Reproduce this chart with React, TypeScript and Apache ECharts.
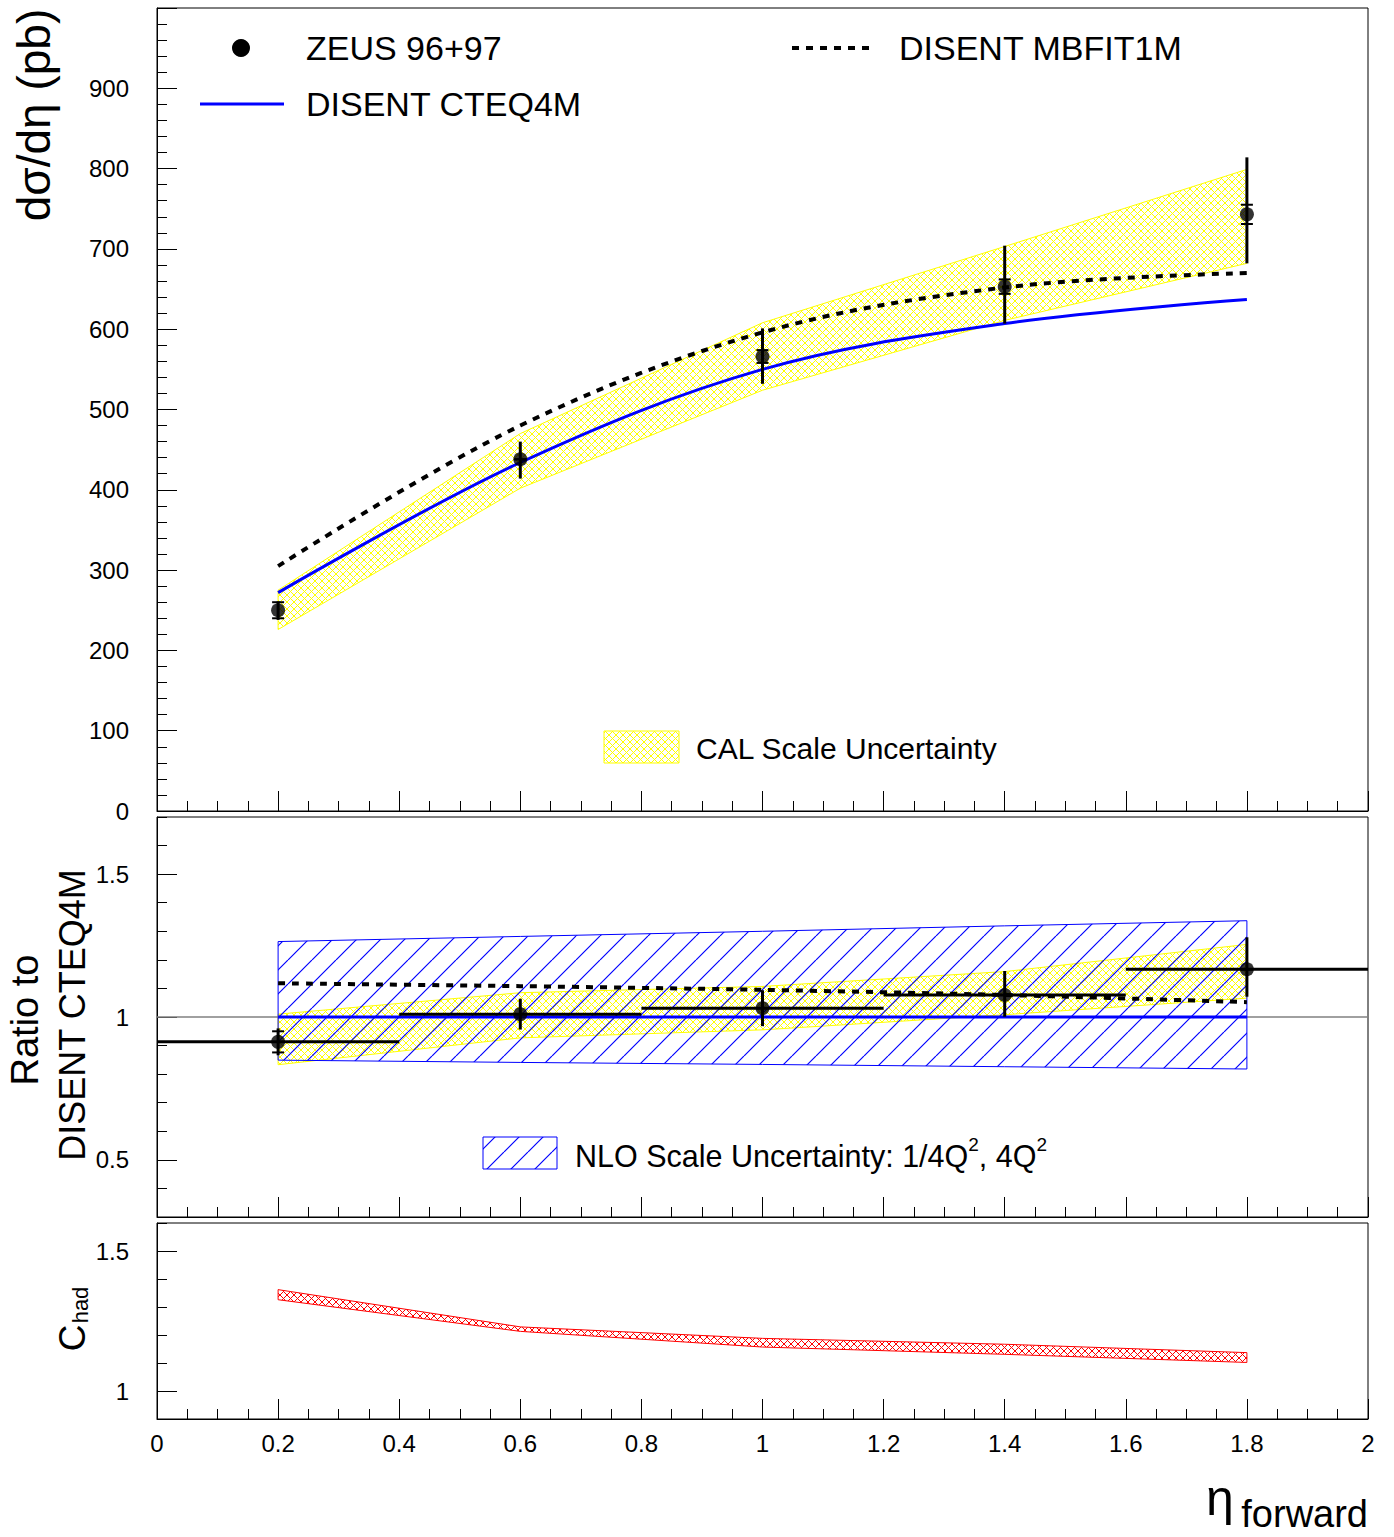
import React, { useEffect, useRef } from "react";
import * as echarts from "echarts";

// ---------- data ----------
const etaBins = [0.2, 0.6, 1.0, 1.4, 1.8];
const etaHalfWidth = [0.2, 0.2, 0.2, 0.2, 0.2];

// top panel: dsigma/deta (pb)
const zeusXsec = [250, 438, 566, 653, 743];
const zeusStat = [10, 0, 8, 9, 12];
const zeusTotUp = [11, 22, 35, 51, 71];
const zeusTotDown = [12, 24, 34, 46, 61];
const cteq4m = [272, 434, 550, 607, 637];
const mbfit1m = [305, 480, 596, 652, 670];
const calBandLo = [226, 402, 524, 611, 682];
const calBandHi = [275, 470, 608, 703, 799];

// middle panel: ratio to DISENT CTEQ4M
const ratioData = [0.913, 1.01, 1.031, 1.077, 1.167];
const ratioStat = [0.037, 0, 0, 0, 0];
const ratioTotUp = [0.047, 0.054, 0.063, 0.084, 0.112];
const ratioTotDown = [0.047, 0.054, 0.063, 0.076, 0.096];
const ratioCteq = [1, 1, 1, 1, 1];
const ratioMbfit = [1.118, 1.108, 1.095, 1.077, 1.052];
const ratioCalLo = [0.833, 0.927, 0.955, 1.008, 1.066];
const ratioCalHi = [1.01, 1.085, 1.107, 1.159, 1.254];
const nloScaleLo = [0.849, 0.841, 0.834, 0.826, 0.818];
const nloScaleHi = [1.264, 1.282, 1.3, 1.319, 1.337];
const ratioReference = 1;

// bottom panel: C_had
const chadLo = [1.326, 1.213, 1.157, 1.131, 1.102];
const chadHi = [1.362, 1.229, 1.188, 1.167, 1.137];

// axes
const xTicks = { min: 0, max: 2, step: 0.2 };
const topY = { min: 0, max: 1000, step: 100 };
const midY = { min: 0.3, max: 1.7, minorStep: 0.1, major: [0.5, 1, 1.5] };
const botY = { min: 0.9, max: 1.6, minorStep: 0.1, major: [1, 1.5] };

const FONT = "'Liberation Sans', Arial, Helvetica, sans-serif";

function hatch(size: number, color: string, lw: number, fwd: boolean, back: boolean) {
  let d = "";
  for (const o of [-size, 0, size]) {
    if (fwd) d += `M${o} ${size}L${o + size} 0`;
    if (back) d += `M${o} 0L${o + size} ${size}`;
  }
  const svg = `<svg xmlns='http://www.w3.org/2000/svg' width='${size}' height='${size}'><path d='${d}' stroke='${color}' stroke-width='${lw}' fill='none'/></svg>`;
  return {
    image: "data:image/svg+xml;charset=utf-8," + encodeURIComponent(svg),
    repeat: "repeat",
    imageWidth: size,
    imageHeight: size,
  } as any;
}

function bandSeries(xi: number, yi: number, lo: number[], hi: number[], fill: any, stroke: string, z: number) {
  const rows = etaBins.map((x, i) => [x, lo[i], hi[i]]);
  return {
    type: "custom",
    xAxisIndex: xi,
    yAxisIndex: yi,
    z,
    silent: true,
    data: rows,
    renderItem: (params: any, api: any) => {
      if (params.dataIndex !== 0) return null;
      const upper = rows.map((r) => api.coord([r[0], r[2]]));
      const lower = rows.map((r) => api.coord([r[0], r[1]])).reverse();
      return {
        type: "polygon",
        shape: { points: [...upper, ...lower] },
        style: { fill, stroke, lineWidth: 1 },
      };
    },
  };
}

function errorSeries(xi: number, yi: number, y: number[], up: number[], down: number[], stat: number[], xerr: number[] | null) {
  const rows = etaBins.map((x, i) => [x, y[i], y[i] - down[i], y[i] + up[i], y[i] - stat[i], y[i] + stat[i], xerr ? xerr[i] : 0]);
  return {
    type: "custom",
    xAxisIndex: xi,
    yAxisIndex: yi,
    z: 8,
    silent: true,
    data: rows,
    renderItem: (params: any, api: any) => {
      const x = api.value(0);
      const yy = api.value(1);
      const pLo = api.coord([x, api.value(2)]);
      const pHi = api.coord([x, api.value(3)]);
      const st = { stroke: "#000", lineWidth: 3 };
      const children: any[] = [
        { type: "line", shape: { x1: pLo[0], y1: pLo[1], x2: pHi[0], y2: pHi[1] }, style: st },
      ];
      for (const s of [api.value(4), api.value(5)]) {
        const p = api.coord([x, s]);
        children.push({ type: "line", shape: { x1: p[0] - 6, y1: p[1], x2: p[0] + 6, y2: p[1] }, style: { stroke: "#000", lineWidth: 2 } });
      }
      const xe = api.value(6);
      if (xe > 0) {
        const a = api.coord([x - xe, yy]);
        const b = api.coord([x + xe, yy]);
        children.push({ type: "line", shape: { x1: a[0], y1: a[1], x2: b[0], y2: b[1] }, style: st });
      }
      return { type: "group", children };
    },
  };
}

export default function App() {
  const ref = useRef<HTMLDivElement>(null);
  useEffect(() => {
    if (!ref.current) return;
    const chart = echarts.init(ref.current, null, { renderer: "svg" });

    const yellow = hatch(7, "#ffff00", 1, true, true);
    const blue = hatch(24, "#0000ff", 1.2, true, false);
    const red = hatch(7, "#ff0000", 1, true, true);

    const grids = [
      { left: 157, top: 8, width: 1211, height: 803 },
      { left: 157, top: 817, width: 1211, height: 400 },
      { left: 157, top: 1223, width: 1211, height: 196 },
    ].map((g) => ({ ...g, show: true, borderColor: "#000", borderWidth: 1, backgroundColor: "#fff", containLabel: false }));

    const xAxis = [0, 1, 2].map((i) => ({
      type: "value",
      gridIndex: i,
      min: xTicks.min,
      max: xTicks.max,
      interval: xTicks.step,
      axisLine: { show: true, onZero: false, lineStyle: { color: "#000", width: 1 } },
      axisTick: { show: true, inside: true, length: 20, lineStyle: { color: "#000", width: 1 } },
      minorTick: { show: true, splitNumber: 4, length: 10, lineStyle: { color: "#000", width: 1 } },
      splitLine: { show: false },
      minorSplitLine: { show: false },
      axisLabel: { show: i === 2, margin: 12, fontSize: 24, color: "#000", fontFamily: FONT },
    }));

    const labelStyle = { fontSize: 24, color: "#000", fontFamily: FONT, margin: 28 };
    const yAxis: any[] = [
      {
        type: "value",
        gridIndex: 0,
        position: "left",
        min: topY.min,
        max: topY.max,
        interval: topY.step,
        axisLine: { show: true, onZero: false, lineStyle: { color: "#000", width: 1 } },
        axisTick: { show: true, inside: true, length: 20, lineStyle: { color: "#000" } },
        minorTick: { show: true, splitNumber: 5, length: 10, lineStyle: { color: "#000" } },
        splitLine: { show: false },
        axisLabel: { ...labelStyle, showMaxLabel: false },
      },
    ];
    for (const [gi, ax] of [[1, midY], [2, botY]] as any) {
      yAxis.push({
        type: "value",
        gridIndex: gi,
        position: "left",
        offset: 0,
        min: ax.min,
        max: ax.max,
        interval: ax.minorStep,
        axisLine: { show: true, onZero: false, lineStyle: { color: "#000", width: 1 } },
        axisTick: { show: true, inside: true, length: 10, lineStyle: { color: "#000" } },
        splitLine: { show: false },
        axisLabel: { show: false },
      });
      yAxis.push({
        type: "value",
        gridIndex: gi,
        position: "left",
        offset: 0,
        min: ax.min,
        max: ax.max,
        axisLine: { show: false, onZero: false },
        axisTick: { show: true, inside: true, length: 20, customValues: ax.major, lineStyle: { color: "#000" } },
        splitLine: { show: false },
        axisLabel: { ...labelStyle, customValues: ax.major },
      });
    }

    const series: any[] = [
      {
        type: "line",
        xAxisIndex: 1,
        yAxisIndex: 1,
        data: [[xTicks.min, ratioReference], [xTicks.max, ratioReference]],
        symbol: "none",
        lineStyle: { color: "#808080", width: 1.5 },
        z: 1,
        silent: true,
      },
      bandSeries(0, 0, calBandLo, calBandHi, yellow, "#ffff00", 2),
      bandSeries(1, 1, ratioCalLo, ratioCalHi, yellow, "#ffff00", 2),
      bandSeries(1, 1, nloScaleLo, nloScaleHi, blue, "#0000ff", 3),
      bandSeries(2, 3, chadLo, chadHi, red, "#ff0000", 3),
      {
        type: "line",
        xAxisIndex: 0,
        yAxisIndex: 0,
        data: etaBins.map((x, i) => [x, cteq4m[i]]),
        smooth: 0.35,
        symbol: "none",
        lineStyle: { color: "#0000ff", width: 3 },
        z: 5,
      },
      {
        type: "line",
        xAxisIndex: 0,
        yAxisIndex: 0,
        data: etaBins.map((x, i) => [x, mbfit1m[i]]),
        smooth: 0.35,
        symbol: "none",
        lineStyle: { color: "#000", width: 4, type: [7, 7] },
        z: 5,
      },
      {
        type: "line",
        xAxisIndex: 1,
        yAxisIndex: 1,
        data: etaBins.map((x, i) => [x, ratioCteq[i]]),
        symbol: "none",
        lineStyle: { color: "#0000ff", width: 3 },
        z: 5,
      },
      {
        type: "line",
        xAxisIndex: 1,
        yAxisIndex: 1,
        data: etaBins.map((x, i) => [x, ratioMbfit[i]]),
        smooth: 0.3,
        symbol: "none",
        lineStyle: { color: "#000", width: 4, type: [7, 7] },
        z: 5,
      },
      errorSeries(0, 0, zeusXsec, zeusTotUp, zeusTotDown, zeusStat, null),
      errorSeries(1, 1, ratioData, ratioTotUp, ratioTotDown, ratioStat, etaHalfWidth),
      {
        type: "scatter",
        xAxisIndex: 0,
        yAxisIndex: 0,
        data: etaBins.map((x, i) => [x, zeusXsec[i]]),
        symbol: "circle",
        symbolSize: 14,
        itemStyle: { color: "#000" },
        z: 9,
      },
      {
        type: "scatter",
        xAxisIndex: 1,
        yAxisIndex: 1,
        data: etaBins.map((x, i) => [x, ratioData[i]]),
        symbol: "circle",
        symbolSize: 14,
        itemStyle: { color: "#000" },
        z: 9,
      },
    ];

    const txt = (text: string, x: number, y: number, size: number, extra: any = {}) => ({
      type: "text",
      x,
      y,
      z: 20,
      style: { text, fontSize: size, fontFamily: FONT, fill: "#000", align: "left", verticalAlign: "middle", ...extra },
    });
    const vtxt = (text: string, x: number, y: number, size: number) => ({
      type: "text",
      x,
      y,
      rotation: Math.PI / 2,
      z: 20,
      style: { text, fontSize: size, fontFamily: FONT, fill: "#000", align: "center", verticalAlign: "middle" },
    });

    const graphic: any[] = [
      // legend top
      { type: "circle", shape: { cx: 241, cy: 48, r: 9 }, style: { fill: "#000" }, z: 20 },
      txt("ZEUS 96+97", 306, 48, 34),
      { type: "line", shape: { x1: 200, y1: 104, x2: 284, y2: 104 }, style: { stroke: "#0000ff", lineWidth: 3 }, z: 20 },
      txt("DISENT CTEQ4M", 306, 104, 34),
      { type: "line", shape: { x1: 792, y1: 48, x2: 872, y2: 48 }, style: { stroke: "#000", lineWidth: 4, lineDash: [7, 7] }, z: 20 },
      txt("DISENT MBFIT1M", 899, 48, 34),
      { type: "rect", shape: { x: 604, y: 731, width: 75, height: 32 }, style: { fill: yellow, stroke: "#ffff00", lineWidth: 1 }, z: 20 },
      txt("CAL Scale Uncertainty", 696, 748, 30),
      { type: "rect", shape: { x: 483, y: 1137, width: 74, height: 32 }, style: { fill: blue, stroke: "#0000ff", lineWidth: 1 }, z: 20 },
      {
        type: "text",
        x: 575,
        y: 1153,
        z: 20,
        style: {
          text: "{a|NLO Scale Uncertainty: 1/4Q}{b|2}{a|, 4Q}{b|2}",
          fontFamily: FONT,
          fill: "#000",
          align: "left",
          verticalAlign: "middle",
          rich: {
            a: { fontSize: 30.5, fontFamily: FONT, fill: "#000", lineHeight: 36, verticalAlign: "bottom" },
            b: { fontSize: 19, fontFamily: FONT, fill: "#000", lineHeight: 22, verticalAlign: "top" },
          },
        },
      },
      // axis titles
      vtxt("dσ/dη (pb)", 34, 115, 46),
      vtxt("Ratio to", 25, 1020, 38),
      vtxt("DISENT CTEQ4M", 72, 1015, 36),
      vtxt("C", 72, 1338, 37),
      vtxt("had", 80, 1305, 22),
      { type: "text", x: 1220, y: 1498, z: 20, style: { text: "η", fontSize: 50, fontFamily: FONT, fill: "#000", align: "center", verticalAlign: "middle" } },
      { type: "text", x: 1368, y: 1514, z: 20, style: { text: "forward", fontSize: 38, fontFamily: FONT, fill: "#000", align: "right", verticalAlign: "middle" } },
    ];

    chart.setOption({
      animation: false,
      backgroundColor: "#fff",
      grid: grids,
      xAxis,
      yAxis,
      series,
      graphic,
    });
    return () => chart.dispose();
  }, []);
  return <div ref={ref} style={{ position: "absolute", left: 0, top: 0, width: 1394, height: 1537 }} />;
}
